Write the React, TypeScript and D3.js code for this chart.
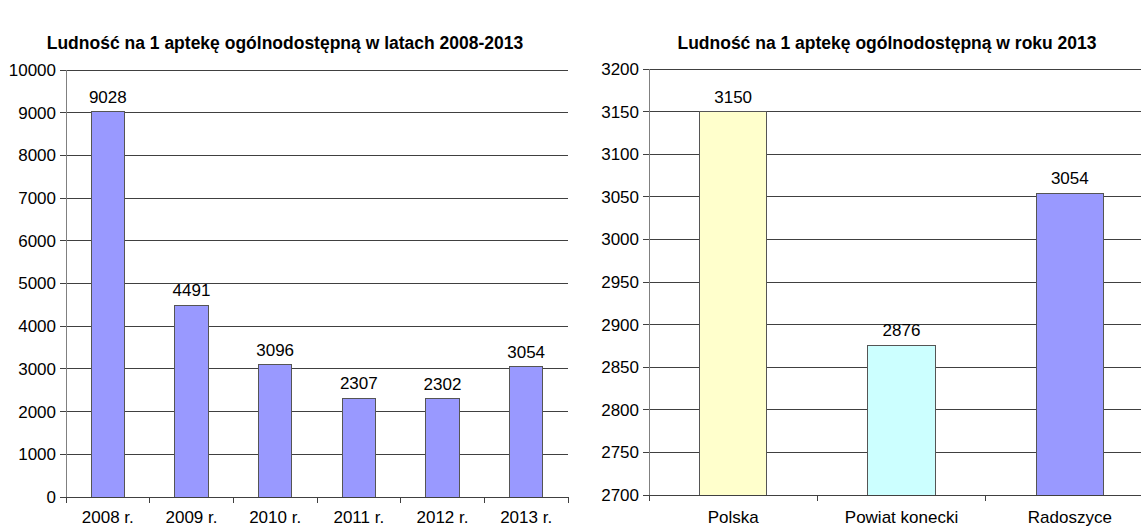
import React from "react";
import * as d3 from "d3";

const W = 1141;
const H = 529;

// lewy wykres: lata
const years = ["2008 r.", "2009 r.", "2010 r.", "2011 r.", "2012 r.", "2013 r."];
const yearValues = [9028, 4491, 3096, 2307, 2302, 3054];
const leftTicks = [0, 1000, 2000, 3000, 4000, 5000, 6000, 7000, 8000, 9000, 10000];

// prawy wykres: 2013
const regions = ["Polska", "Powiat konecki", "Radoszyce"];
const regionValues = [3150, 2876, 3054];
const regionColors = ["#FFFFCC", "#CCFFFF", "#9999FF"];
const rightTicks = [2700, 2750, 2800, 2850, 2900, 2950, 3000, 3050, 3100, 3150, 3200];

const titleLeft = "Ludność na 1 aptekę ogólnodostępną w latach 2008-2013";
const titleRight = "Ludność na 1 aptekę ogólnodostępną w roku 2013";

const font = "Arial, 'Liberation Sans', sans-serif";
const fs = 17;
const catLabelY = 517;

type PanelProps = {
  cats: string[];
  vals: number[];
  colors: string[];
  ticks: number[];
  domain: [number, number];
  x0: number;
  x1: number;
  clipRight: number;
  top: number;
  bottom: number;
  title: string;
  titleX: number;
};

function Panel(p: PanelProps) {
  const x = d3.scaleBand<string>().domain(p.cats).range([p.x0, p.x1]).padding(0);
  const y = d3.scaleLinear().domain(p.domain).range([p.bottom, p.top]);
  const step = x.step();
  const bw = step * 0.4;
  const gridEnd = Math.min(p.x1, p.clipRight);

  return (
    <g fontFamily={font}>
      <text x={p.titleX} y={49} textAnchor="middle" fontWeight="bold" fontSize={17.5} fill="#000">
        {p.title}
      </text>
      {p.ticks.map((t) => (
        <g key={t}>
          <line x1={p.x0} x2={gridEnd} y1={y(t)} y2={y(t)} stroke="#404040" strokeWidth={1} />
          <line x1={p.x0 - 6} x2={p.x0} y1={y(t)} y2={y(t)} stroke="#404040" />
          <text x={p.x0 - 10} y={y(t)} dy="0.35em" textAnchor="end" fontSize={fs} fill="#000">
            {t}
          </text>
        </g>
      ))}
      <line x1={p.x0} x2={p.x0} y1={p.top} y2={p.bottom} stroke="#808080" />
      {p.cats.map((c, i) => {
        const cx = (x(c) as number) + step / 2;
        return (
          <g key={c}>
            <rect
              x={cx - bw / 2}
              y={y(p.vals[i])}
              width={bw}
              height={p.bottom - y(p.vals[i])}
              fill={p.colors[i % p.colors.length]}
              stroke="#555"
              strokeWidth={1}
            />
            <text x={cx} y={y(p.vals[i]) - 9} textAnchor="middle" fontSize={fs} fill="#000">
              {p.vals[i]}
            </text>
            <text x={cx} y={catLabelY} dy="0.35em" textAnchor="middle" fontSize={fs} fill="#000">
              {c}
            </text>
          </g>
        );
      })}
      {d3.range(p.cats.length + 1).map((i) => {
        const tx = p.x0 + i * step;
        if (tx > p.clipRight) return null;
        return <line key={i} x1={tx} x2={tx} y1={p.bottom} y2={p.bottom + 6} stroke="#404040" />;
      })}
      <line x1={p.x0} x2={gridEnd} y1={p.bottom} y2={p.bottom} stroke="#404040" />
    </g>
  );
}

export default function App() {
  return (
    <div style={{ position: "absolute", left: 0, top: 0, width: W, height: H, background: "#fff" }}>
      <svg width={W} height={H} style={{ display: "block" }} shapeRendering="crispEdges">
        <rect width={W} height={H} fill="#fff" />
        <Panel
          cats={years}
          vals={yearValues}
          colors={["#9999FF"]}
          ticks={leftTicks}
          domain={[0, 10000]}
          x0={66}
          x1={568}
          clipRight={W}
          top={70}
          bottom={497}
          title={titleLeft}
          titleX={285}
        />
        <Panel
          cats={regions}
          vals={regionValues}
          colors={regionColors}
          ticks={rightTicks}
          domain={[2700, 3200]}
          x0={649}
          x1={1154}
          clipRight={W}
          top={69}
          bottom={495}
          title={titleRight}
          titleX={887}
        />
      </svg>
    </div>
  );
}
